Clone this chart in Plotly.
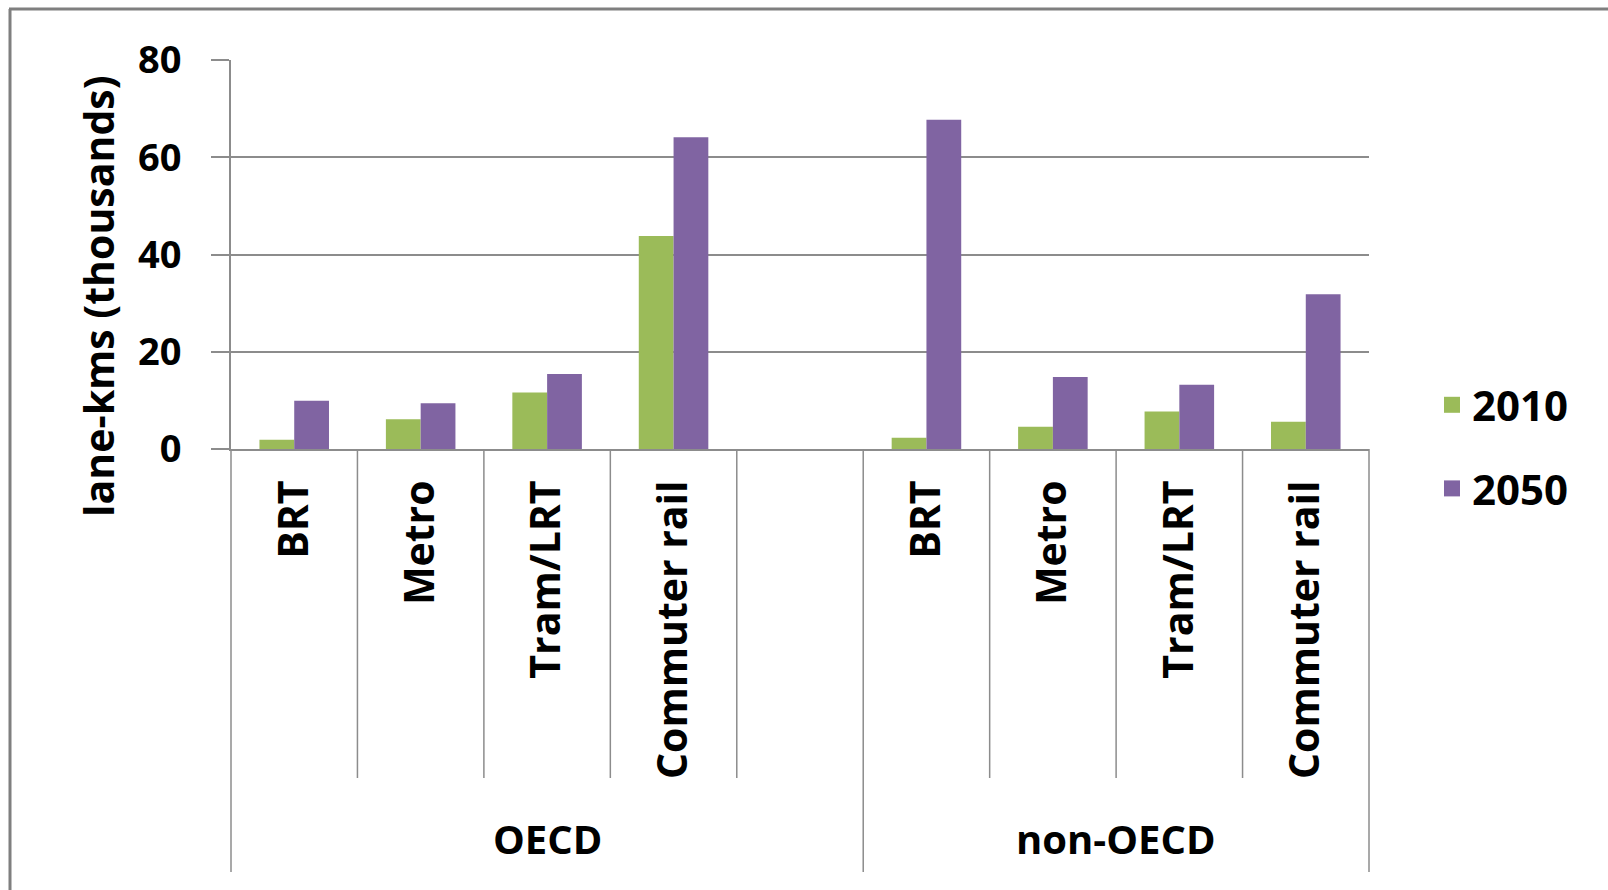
import plotly.graph_objects as go

# ---- data ----
groups = ["OECD", "non-OECD"]
modes = ["BRT", "Metro", "Tram/LRT", "Commuter rail"]
oecd_2010 = [1.9, 6.1, 11.6, 43.8]
oecd_2050 = [9.9, 9.4, 15.4, 64.1]
non_oecd_2010 = [2.3, 4.6, 7.7, 5.6]
non_oecd_2050 = [67.7, 14.8, 13.2, 31.8]
series_names = ["2010", "2050"]
y_ticks = [0, 20, 40, 60, 80]

GREEN = "#9BBB59"
PURPLE = "#8064A2"
GRID = "#8c8c8c"
FONT = "Open Sans"

# category slots: OECD uses 5 slots (last one empty), non-OECD uses 4
oecd_pos = list(range(len(modes)))                   # 0..3
non_pos = [len(modes) + 1 + i for i in range(len(modes))]  # 5..8
x_pos = oecd_pos + non_pos
v2010 = oecd_2010 + non_oecd_2010
v2050 = oecd_2050 + non_oecd_2050
x_labels = modes + modes
x_min, x_max = -0.5, non_pos[-1] + 0.5

W, H = 1608, 890
ML, MR, MT, MB = 231, 239, 60, 441
PW = W - ML - MR
PH = H - MT - MB


def px_to_py(py):
    return (H - MB - py) / PH


def px_to_px(px):
    return (px - ML) / PW


fig = go.Figure()
fig.add_trace(go.Bar(x=x_pos, y=v2010, name=series_names[0], marker_color=GREEN,
                     marker_line_width=0, showlegend=False))
fig.add_trace(go.Bar(x=x_pos, y=v2050, name=series_names[1], marker_color=PURPLE,
                     marker_line_width=0, showlegend=False))
# legend entries
for nm, col in zip(series_names, [GREEN, PURPLE]):
    fig.add_trace(go.Scatter(x=[None], y=[None], mode="markers", name=nm,
                             legendgroup=nm,
                             marker=dict(symbol="square", size=20, color=col)))

shapes = []
# separators between categories
bounds = [x_min + i for i in range(int(x_max - x_min) + 1)]
group_edges = [x_min, len(modes) + 0.5, x_max]
for b in bounds:
    xd = (b - x_min) / (x_max - x_min)
    long = any(abs(b - g) < 1e-9 for g in group_edges)
    y_end = px_to_py(872 if long else 778)
    shapes.append(dict(type="line", xref="x domain", yref="paper",
                       x0=xd, x1=xd, y0=0, y1=y_end,
                       line=dict(color=GRID, width=1.5)))
# outer frame (top & left edges)
shapes.append(dict(type="line", xref="paper", yref="paper",
                   x0=px_to_px(9), x1=px_to_px(W), y0=px_to_py(9), y1=px_to_py(9),
                   line=dict(color="#7f7f7f", width=3)))
shapes.append(dict(type="line", xref="paper", yref="paper",
                   x0=px_to_px(10), x1=px_to_px(10), y0=px_to_py(9), y1=px_to_py(H),
                   line=dict(color="#7f7f7f", width=3)))

annotations = [
    dict(text="lane-kms (thousands)", textangle=-90, xref="paper", yref="paper",
         x=px_to_px(98), y=px_to_py(296), xanchor="center", yanchor="middle",
         showarrow=False, font=dict(family=FONT, size=41, color="black", weight="bold")),
    dict(text=groups[0], xref="x", yref="paper", x=(x_min + len(modes) + 0.5) / 2,
         y=px_to_py(838), xanchor="center", yanchor="middle", showarrow=False,
         font=dict(family=FONT, size=40, color="black", weight="bold")),
    dict(text=groups[1], xref="x", yref="paper", x=(len(modes) + 0.5 + x_max) / 2,
         y=px_to_py(838), xanchor="center", yanchor="middle", showarrow=False,
         font=dict(family=FONT, size=40, color="black", weight="bold")),
]

fig.update_layout(
    width=W, height=H,
    margin=dict(l=ML, r=MR, t=MT, b=MB, autoexpand=False),
    paper_bgcolor="white", plot_bgcolor="white",
    barmode="group", bargap=0.45, bargroupgap=0,
    font=dict(family=FONT, color="black"),
    shapes=shapes, annotations=annotations,
    legend=dict(x=px_to_px(1432), y=px_to_py(447), xanchor="left", yanchor="middle",
                font=dict(family=FONT, size=42, color="black", weight="bold"),
                tracegroupgap=26, bgcolor="rgba(0,0,0,0)"),
)
fig.update_xaxes(range=[x_min, x_max], tickmode="array", tickvals=x_pos, ticktext=x_labels,
                 tickangle=-90, ticks="", showgrid=False, zeroline=False,
                 showline=True, linecolor=GRID, linewidth=2, ticklabelstandoff=13,
                 tickfont=dict(family=FONT, size=41, color="black", weight="bold"))
fig.update_yaxes(range=[0, 80], tickmode="array", tickvals=y_ticks,
                 ticks="outside", ticklen=18, tickcolor=GRID, tickwidth=2,
                 showgrid=True, gridcolor=GRID, gridwidth=2, zeroline=False,
                 showline=True, linecolor=GRID, linewidth=2, ticklabelstandoff=22,
                 tickfont=dict(family=FONT, size=38, color="black", weight="bold"))

fig.write_html("out.html")
